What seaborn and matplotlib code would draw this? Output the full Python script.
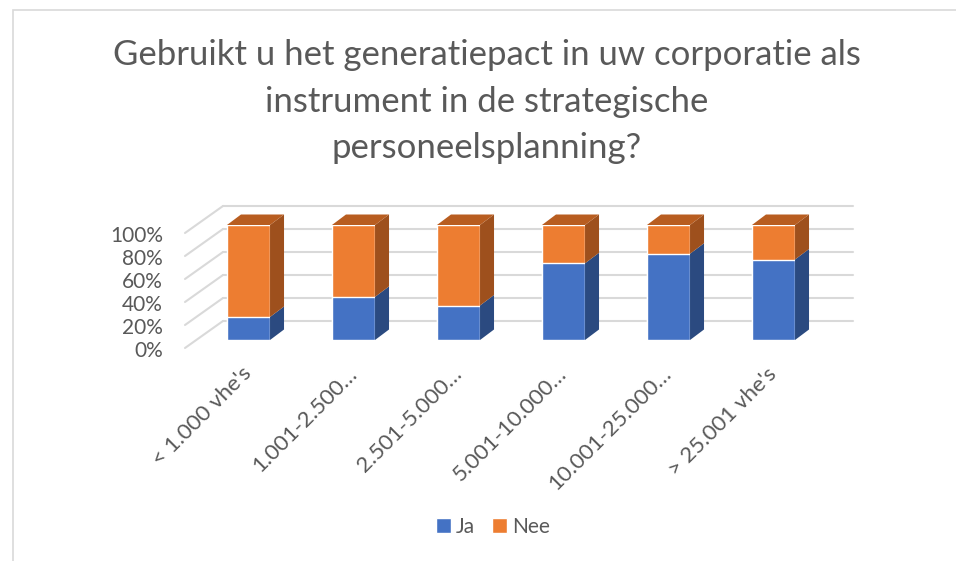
import matplotlib
matplotlib.use("Agg")
import matplotlib.pyplot as plt
import seaborn as sns
from matplotlib.patches import Polygon, Patch, Rectangle

categories = ["< 1.000 vhe's", "1.001-2.500…", "2.501-5.000…",
              "5.001-10.000…", "10.001-25.000…", "> 25.001 vhe's"]
ja = [20, 37.5, 30, 66.7, 75, 70]
nee = [80, 62.5, 70, 33.3, 25, 30]
yticks = [0, 20, 40, 60, 80, 100]
title_lines = ["Gebruikt u het generatiepact in uw corporatie als",
               "instrument in de strategische",
               "personeelsplanning?"]

blue, blue_side = "#4472C4", "#2B4A80"
orange, orange_side, orange_top = "#ED7D31", "#9E501D", "#B85D20"
grid_col = "#D9D9D9"
text_col = "#595959"

sns.set_theme(style="white")
plt.rcParams["font.family"] = ["Lato", "DejaVu Sans"]

W, H = 956, 561
fig = plt.figure(figsize=(W / 100, H / 100), dpi=100)
ax = fig.add_axes([196 / W, (H - 340) / H, 630 / W, 115 / H])

totals = [a + b for a, b in zip(ja, nee)]
bar_w = 0.41
sns.barplot(x=categories, y=totals, color=orange, saturation=1, width=bar_w, ax=ax, zorder=3)
sns.barplot(x=categories, y=ja, color=blue, saturation=1, width=bar_w, ax=ax, zorder=3)

x0, x1 = -0.5, 5.5
ax.set_xlim(x0, x1)
ax.set_ylim(0, 100)
for s in ax.spines.values():
    s.set_visible(False)
ax.set_facecolor("none")


def px(dx, dy):
    # pixel offset -> data offset
    return dx * (x1 - x0) / ax.bbox.width, dy * 100 / ax.bbox.height


bdx, bdy = px(27, 19)     # back wall
fdx, fdy = px(-11, -8)    # front edge of floor
ddx, ddy = px(14, 10.5)   # bar depth

# walls / gridlines
for v in yticks:
    ax.plot([x0 + bdx, x1 + bdx], [v + bdy, v + bdy], color=grid_col, lw=1.5,
            clip_on=False, zorder=0)
    ax.plot([x0 + fdx, x0 + bdx], [v + fdy, v + bdy], color=grid_col, lw=1.5,
            clip_on=False, zorder=0)
    lx, ly = px(-22, -3)
    ax.text(x0 + fdx + lx, v + fdy + ly, f"{v}%", ha="right", va="center",
            fontsize=15, color=text_col)

# 3d faces
for i in range(len(categories)):
    r = i + bar_w / 2
    l = i - bar_w / 2
    segs = [(0, ja[i], blue_side), (ja[i], totals[i], orange_side)]
    for lo, hi, c in segs:
        ax.add_patch(Polygon([(r, lo), (r + ddx, lo + ddy), (r + ddx, hi + ddy), (r, hi)],
                             closed=True, facecolor=c, edgecolor="none", zorder=3,
                             clip_on=False))
    t = totals[i]
    ax.add_patch(Polygon([(l, t), (l + ddx, t + ddy), (r + ddx, t + ddy), (r, t)],
                         closed=True, facecolor=orange_top, edgecolor="none", zorder=3,
                         clip_on=False))

ax.set_yticks([])
ax.set_xticks(range(len(categories)))
ax.set_xticklabels(categories, rotation=45, ha="right", va="center",
                   rotation_mode="anchor", fontsize=16, color=text_col)
ax.tick_params(axis="x", length=0, pad=22)
ax.set_xlabel("")
ax.set_ylabel("")

for j, line in enumerate(title_lines):
    fig.text(487 / W, 1 - (55 + 46.5 * j) / H, line, ha="center", va="center",
             fontsize=25, color=text_col)

handles = [Patch(facecolor=blue, label="Ja"), Patch(facecolor=orange, label="Nee")]
fig.legend(handles=handles, loc="center", bbox_to_anchor=(493 / W, 1 - 527 / H),
           ncol=2, frameon=False, fontsize=15, handlelength=0.7, handleheight=0.7,
           handletextpad=0.25, columnspacing=0.8, labelcolor=text_col)

fig.patches.append(Rectangle((13 / W, -0.1), 1.1, 1.1 - 10 / H, transform=fig.transFigure,
                             fill=False, edgecolor=grid_col, lw=1.2))

fig.savefig("out.png", dpi=100)
